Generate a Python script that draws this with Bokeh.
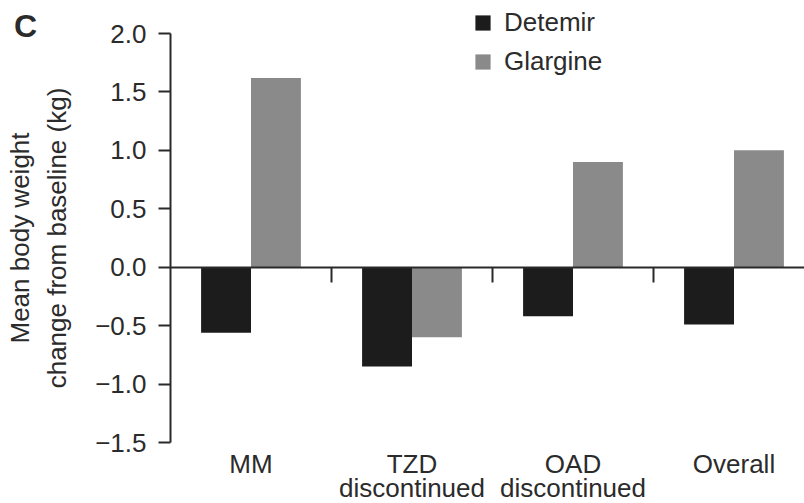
import numpy as np
from bokeh.plotting import figure
from bokeh.models import (Range1d, LinearAxis, FixedTicker, Legend, LegendItem,
                          Label, CustomJSTickFormatter, ColumnDataSource)
from bokeh.embed import file_html
from bokeh.resources import INLINE

# ---- data ----
categories = ["MM", "TZD\ndiscontinued", "OAD\ndiscontinued", "Overall"]
detemir = [-0.56, -0.85, -0.42, -0.49]
glargine = [1.62, -0.60, 0.90, 1.00]
y_ticks = [-1.5, -1.0, -0.5, 0.0, 0.5, 1.0, 1.5, 2.0]
series_names = ["Detemir", "Glargine"]

FONT = "Liberation Sans"
TXT = "#2b2b2b"
AX = "#2a2a2a"
C_DET = "#1c1c1c"
C_GLA = "#8a8a8a"
BAR_W = 0.31

# layout: frame covers the full canvas; axes are placed at fixed locations
W, H = 804, 503
X0_PX, PX_X = 170, 161.0          # screen x of data x=0, px per category
Y_TOP_PX, Y_BOT_PX = 33, 442      # screen y of y=2.0 and y=-1.5
y_lo, y_hi = y_ticks[0], y_ticks[-1]
PX_Y = (Y_BOT_PX - Y_TOP_PX) / (y_hi - y_lo)
x_start = -X0_PX / PX_X
x_end = (W - X0_PX) / PX_X
y_end = y_hi + Y_TOP_PX / PX_Y
y_start = y_lo - (H - Y_BOT_PX) / PX_Y

centers = np.arange(len(categories)) + 0.5
src = ColumnDataSource(dict(
    xd=centers - BAR_W / 2, xg=centers + BAR_W / 2,
    det=detemir, gla=glargine,
))

p = figure(width=W, height=H, x_range=Range1d(x_start, x_end), y_range=Range1d(y_start, y_end),
           output_backend="svg", toolbar_location=None,
           x_axis_location=None, y_axis_location=None,
           min_border_left=0, min_border_right=0, min_border_top=0, min_border_bottom=0)
p.outline_line_color = None
p.xgrid.visible = False
p.ygrid.visible = False
p.background_fill_color = "white"
p.border_fill_color = "white"

r1 = p.vbar(x="xd", top="det", bottom=0, width=BAR_W, source=src,
            fill_color=C_DET, line_color=None)
r2 = p.vbar(x="xg", top="gla", bottom=0, width=BAR_W, source=src,
            fill_color=C_GLA, line_color=None)

# y axis
yaxis = LinearAxis(fixed_location=0, bounds=(y_lo, y_hi), ticker=FixedTicker(ticks=y_ticks),
                   formatter=CustomJSTickFormatter(code="return tick.toFixed(1).replace('-', '\\u2212');"))
yaxis.axis_line_width = 2
yaxis.axis_line_color = AX
yaxis.major_tick_line_width = 2
yaxis.major_tick_line_color = AX
yaxis.major_tick_out = 12
yaxis.major_tick_in = 0
yaxis.minor_tick_line_color = None
yaxis.major_label_standoff = 12
yaxis.major_label_text_font = FONT
yaxis.major_label_text_font_size = "26px"
yaxis.major_label_text_color = TXT
yaxis.axis_label = "Mean body weight\nchange from baseline (kg)"
yaxis.axis_label_text_font = FONT
yaxis.axis_label_text_font_size = "26px"
yaxis.axis_label_text_font_style = "normal"
yaxis.axis_label_text_color = TXT
yaxis.axis_label_standoff = 20
yaxis.axis_label_text_line_height = 1.25
p.add_layout(yaxis, "left")

# zero line with separator ticks
zaxis = LinearAxis(fixed_location=0, bounds=(0, x_end),
                   ticker=FixedTicker(ticks=list(np.arange(1, len(categories)))),
                   formatter=CustomJSTickFormatter(code="return '';"))
zaxis.axis_line_width = 2
zaxis.axis_line_color = AX
zaxis.major_tick_line_width = 2
zaxis.major_tick_line_color = AX
zaxis.major_tick_out = 15
zaxis.major_tick_in = 0
zaxis.minor_tick_line_color = None
zaxis.major_label_text_font_size = "1px"
p.add_layout(zaxis, "below")

# category labels
xaxis = LinearAxis(fixed_location=y_lo, ticker=FixedTicker(ticks=list(centers)),
                   formatter=CustomJSTickFormatter(args=dict(labels=categories),
                                                   code="return labels[Math.floor(tick)];"))
xaxis.axis_line_color = None
xaxis.major_tick_line_color = None
xaxis.minor_tick_line_color = None
xaxis.major_tick_in = 0
xaxis.major_tick_out = 0
xaxis.major_label_standoff = 6
xaxis.major_label_text_font = FONT
xaxis.major_label_text_font_size = "26px"
xaxis.major_label_text_color = TXT
xaxis.major_label_text_line_height = 0.8
p.add_layout(xaxis, "below")

legend = Legend(items=[LegendItem(label=series_names[0], renderers=[r1]),
                       LegendItem(label=series_names[1], renderers=[r2])],
                location=(473, 426), orientation="vertical",
                glyph_width=19, glyph_height=19, label_standoff=12, spacing=8,
                padding=0, margin=0, border_line_color=None, background_fill_alpha=0,
                label_text_font=FONT, label_text_font_size="26px", label_text_color=TXT)
p.add_layout(legend)

p.add_layout(Label(x=(25 - X0_PX) / PX_X, y=y_hi + (Y_TOP_PX - 25.5) / PX_Y, text="C",
                   text_font=FONT, text_font_size="32px",
                   text_font_style="bold", text_align="center", text_baseline="middle",
                   text_color=TXT))

open("out.html", "w", encoding="utf-8").write(file_html(p, INLINE))
